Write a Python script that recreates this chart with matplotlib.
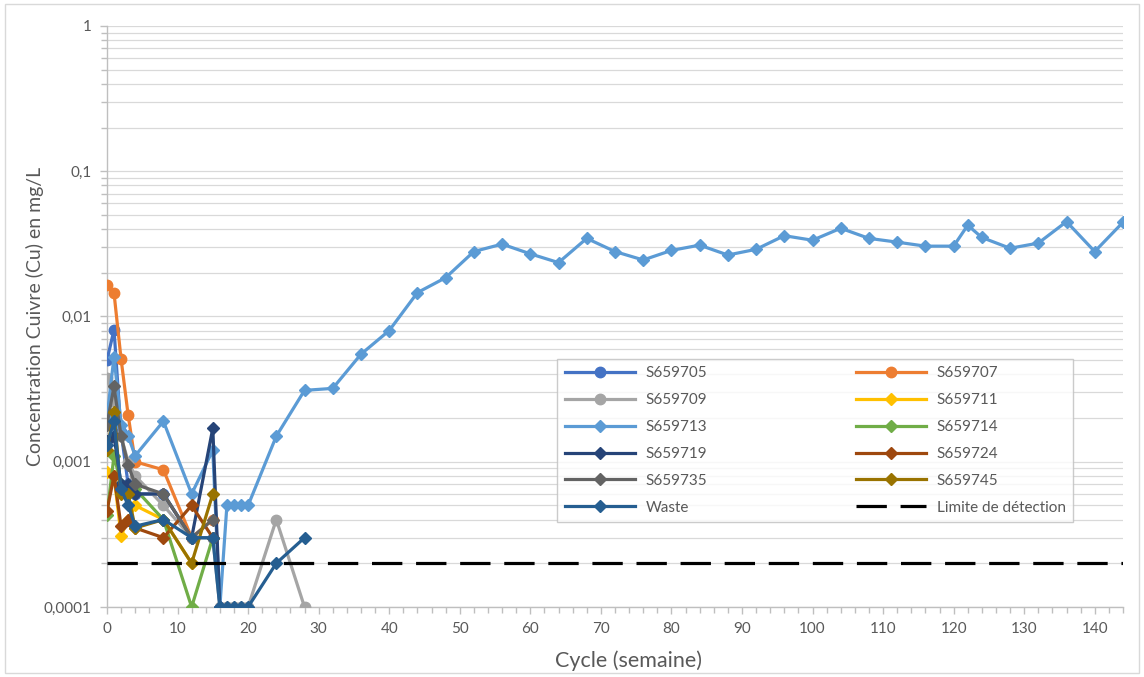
import numpy as np
import matplotlib.pyplot as plt
from matplotlib.ticker import FixedLocator, FuncFormatter, LogLocator, NullFormatter
from matplotlib.patches import Rectangle

# ---------------------------------------------------------------------------
# Data
# ---------------------------------------------------------------------------
t_early = [0, 1, 2, 3, 4, 8, 12, 15]
t_mid = [0, 1, 2, 3, 4, 8, 12, 15, 16, 17, 18, 19, 20, 24, 28]

s659705 = [0.005, 0.0081, 0.0016, 0.0007, 0.0006, 0.0006, 0.0003, 0.0003]
s659707 = [0.0165, 0.0145, 0.0051, 0.0021, 0.001, 0.00088, 0.0003, 0.0004]
s659709 = [0.0038, 0.0026, 0.0015, 0.001, 0.0008, 0.0005, 0.0003, 0.0003,
           0.0001, 0.0001, 0.0001, 0.0001, 0.0001, 0.0004, 0.0001]
s659711 = [0.00085, 0.0008, 0.00031, 0.0004, 0.0005, 0.0004, 0.0002]
s659714 = [0.00043, 0.0011, 0.0007, 0.0006, 0.00065, 0.0004, 0.0001, 0.0003]
s659719_t = [0, 1, 2, 3, 4, 8, 12, 15, 16]
s659719 = [0.0014, 0.0015, 0.0007, 0.0007, 0.0006, 0.0006, 0.0003, 0.0017, 0.0001]
s659724 = [0.00046, 0.0008, 0.00036, 0.0004, 0.00035, 0.0003, 0.0005, 0.0003]
s659735 = [0.0018, 0.0033, 0.0015, 0.00095, 0.0007, 0.0006, 0.0003, 0.0004]
s659745 = [0.0012, 0.0022, 0.0006, 0.0006, 0.00035, 0.0004, 0.0002, 0.0006]
waste = [0.0013, 0.0019, 0.00065, 0.0005, 0.00036, 0.0004, 0.0003, 0.0003,
         0.0001, 0.0001, 0.0001, 0.0001, 0.0001, 0.0002, 0.0003]

s659713_t = [0, 1, 2, 3, 4, 8, 12, 15, 16, 17, 18, 19, 20, 24, 28, 32, 36, 40,
             44, 48, 52, 56, 60, 64, 68, 72, 76, 80, 84, 88, 92, 96, 100, 104,
             108, 112, 116, 120, 122, 124, 128, 132, 136, 140, 144]
s659713 = [0.002, 0.0053, 0.0018, 0.0015, 0.0011, 0.0019, 0.0006, 0.0012,
           0.0001, 0.0005, 0.0005, 0.0005, 0.0005, 0.0015, 0.0031, 0.0032,
           0.0055, 0.008, 0.0146, 0.0185, 0.028, 0.0315, 0.027, 0.0235,
           0.0345, 0.028, 0.0245, 0.0285, 0.031, 0.0265, 0.029, 0.036,
           0.0335, 0.0405, 0.0345, 0.0325, 0.0305, 0.0305, 0.0425, 0.035,
           0.0295, 0.032, 0.045, 0.028, 0.0445]

detection_limit = 0.0002
x_max = 144

# label, x, y, colour, marker
series = [
    ("S659705", t_early, s659705, "#4472C4", "o"),
    ("S659707", t_early, s659707, "#ED7D31", "o"),
    ("S659709", t_mid, s659709, "#A5A5A5", "o"),
    ("S659711", t_early[:7], s659711, "#FFC000", "D"),
    ("S659713", s659713_t, s659713, "#5B9BD5", "D"),
    ("S659714", t_early, s659714, "#70AD47", "D"),
    ("S659719", s659719_t, s659719, "#264478", "D"),
    ("S659724", t_early, s659724, "#9E480E", "D"),
    ("S659735", t_early, s659735, "#636363", "D"),
    ("S659745", t_early, s659745, "#997300", "D"),
    ("Waste", t_mid, waste, "#255E91", "D"),
]

plt.rcParams['font.family'] = ['Lato', 'DejaVu Sans']

fig = plt.figure(figsize=(11.44, 6.77), dpi=100)
ax = fig.add_axes([0.0935, 0.1034, 0.8881, 0.8582])

handles = []
for label, x, y, col, mk in series:
    ms = 7.5 if mk == "o" else 6.5
    h, = ax.plot(x, y, color=col, lw=2.3, marker=mk, ms=ms, label=label,
                 markeredgecolor=col, zorder=3)
    handles.append(h)

h, = ax.plot([0, x_max], [detection_limit, detection_limit], color="black",
             lw=2.3, linestyle=(0, (9.5, 4.3)), label="Limite de détection",
             zorder=4)
handles.append(h)

ax.set_yscale("log")
ax.set_ylim(0.0001, 1)
ax.set_xlim(0, x_max)

ax.yaxis.set_major_locator(LogLocator(base=10))
ax.yaxis.set_minor_locator(LogLocator(base=10, subs=np.arange(2, 10)))
ax.yaxis.set_minor_formatter(NullFormatter())
ax.yaxis.set_major_formatter(FuncFormatter(
    lambda v, p: ("%g" % v).replace("1e-04", "0.0001").replace(".", ",")))
ax.xaxis.set_major_locator(FixedLocator(np.arange(0, 141, 10)))
ax.xaxis.set_minor_locator(FixedLocator(np.arange(0, x_max + 1, 2)))

ax.grid(True, which="both", axis="y", color="#D9D9D9", lw=0.9, zorder=0)
ax.set_axisbelow(True)

for side in ("top", "right"):
    ax.spines[side].set_visible(False)
for side in ("left", "bottom"):
    ax.spines[side].set_color("#BFBFBF")
    ax.spines[side].set_linewidth(1.0)

ax.tick_params(axis="both", which="both", direction="out", color="#BFBFBF",
               width=1.0, labelcolor="#595959", labelsize=11)
ax.tick_params(axis="both", which="major", length=5, pad=6)
ax.tick_params(axis="both", which="minor", length=4)

ax.set_xlabel("Cycle (semaine)", fontsize=15.5, color="#595959")
ax.xaxis.set_label_coords(0.513, -0.075)
ax.set_ylabel("Concentration Cuivre (Cu) en mg/L", fontsize=14,
              color="#595959")
ax.yaxis.set_label_coords(-0.062, 0.5)

# legend filled row by row like the original (two columns)
order = [0, 2, 4, 6, 8, 10, 1, 3, 5, 7, 9, 11]
leg = ax.legend([handles[i] for i in order],
                [handles[i].get_label() for i in order],
                ncol=2, loc="lower left",
                bbox_to_anchor=(0.443, 0.146, 0.508, 0.28), mode="expand",
                fontsize=11, frameon=True, fancybox=False, handlelength=4.6,
                handletextpad=0.7, labelspacing=0.84, borderpad=0.5,
                borderaxespad=0)
leg.get_frame().set_edgecolor("#BFBFBF")
leg.get_frame().set_linewidth(1.0)
for txt in leg.get_texts():
    txt.set_color("#595959")

fig.add_artist(Rectangle((0.004, 0.006), 0.992, 0.988, transform=fig.transFigure,
                         fill=False, edgecolor="#D9D9D9", lw=1.0))

fig.savefig("out.png", dpi=100, facecolor="white")
